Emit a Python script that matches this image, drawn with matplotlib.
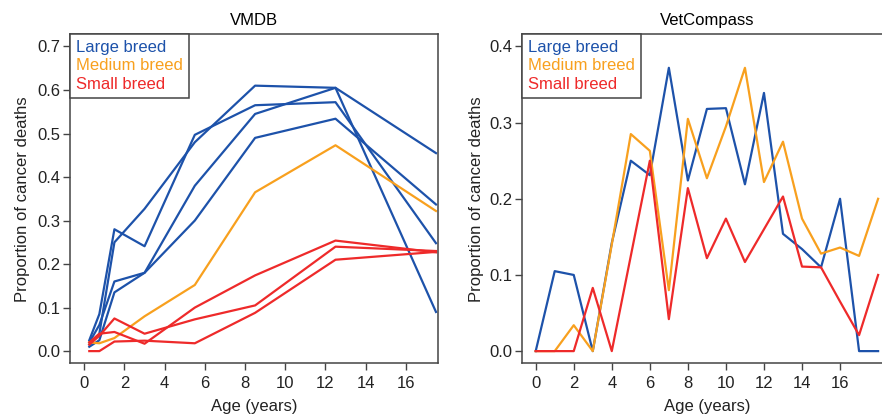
import matplotlib
matplotlib.use("Agg")
import matplotlib.pyplot as plt
from matplotlib.lines import Line2D
from matplotlib.ticker import FormatStrFormatter

plt.rcParams["font.family"] = ["Liberation Sans", "DejaVu Sans"]

BLUE = "#1d52aa"
ORANGE = "#f8a01e"
RED = "#ee2a2a"
EDGE = "#444444"

# VMDB: age-band midpoints, several lines per breed size
vmdb_age = [0.25, 0.75, 1.5, 3, 5.5, 8.5, 12.5, 17.5]
vmdb_large = [
    [0.025, 0.085, 0.28, 0.241, 0.497, 0.565, 0.572, 0.248],
    [0.015, 0.040, 0.25, 0.327, 0.480, 0.610, 0.605, 0.455],
    [0.020, 0.060, 0.16, 0.180, 0.380, 0.545, 0.605, 0.090],
    [0.010, 0.025, 0.135, 0.180, 0.300, 0.490, 0.534, 0.337],
]
vmdb_medium = [
    [0.020, 0.018, 0.030, 0.080, 0.152, 0.365, 0.473, 0.322],
]
vmdb_small = [
    [0.000, 0.000, 0.022, 0.024, 0.018, 0.088, 0.210, 0.228],
    [0.020, 0.040, 0.044, 0.017, 0.100, 0.174, 0.254, 0.227],
    [0.015, 0.035, 0.075, 0.040, 0.073, 0.105, 0.240, 0.230],
]

# VetCompass: yearly ages
vc_age = list(range(19))
vc_large = [0, 0.105, 0.100, 0, 0.142, 0.250, 0.231, 0.372, 0.224, 0.318,
            0.319, 0.219, 0.339, 0.154, 0.134, 0.110, 0.200, 0, 0]
vc_medium = [0, 0, 0.034, 0, 0.140, 0.285, 0.263, 0.080, 0.305, 0.227,
             0.295, 0.372, 0.222, 0.275, 0.174, 0.128, 0.136, 0.125, 0.200]
vc_small = [0, 0, 0, 0.083, 0, 0.125, 0.250, 0.042, 0.214, 0.122,
            0.174, 0.117, 0.160, 0.203, 0.111, 0.110, 0.065, 0.021, 0.100]

LABELS = ["Large breed", "Medium breed", "Small breed"]
COLORS = [BLUE, ORANGE, RED]


def style_axes(ax, title, xticks, yticks):
    ax.set_title(title, fontsize=12, pad=7)
    ax.set_xticks(xticks)
    ax.set_yticks(yticks)
    ax.yaxis.set_major_formatter(FormatStrFormatter("%.1f"))
    ax.tick_params(direction="out", length=5, width=1, color=EDGE,
                   labelsize=12, labelcolor="#222222")
    ax.tick_params(axis="y", pad=2)
    ax.tick_params(axis="x", pad=4)
    for sp in ax.spines.values():
        sp.set_color(EDGE)
        sp.set_linewidth(1.1)
    ax.set_xlabel("Age (years)", fontsize=12, color="#222222")
    ax.set_ylabel("Proportion of cancer deaths", fontsize=12, color="#222222")
    handles = [Line2D([], [], color=c) for c in COLORS]
    leg = ax.legend(handles, LABELS, loc="upper left", borderaxespad=0,
                    handlelength=0, handletextpad=0, fancybox=False,
                    framealpha=1, edgecolor=EDGE, fontsize=12,
                    labelspacing=0.2, borderpad=0.35)
    leg.get_frame().set_linewidth(1.1)
    for h in leg.legend_handles:
        h.set_visible(False)
    for t, c in zip(leg.get_texts(), COLORS):
        t.set_color(c)


fig = plt.figure(figsize=(8.82, 4.18), dpi=100)
H = 418
W = 882
bottom = (H - 363.3) / H
height = 329 / H

ax1 = fig.add_axes([70 / W, bottom, 368 / W, height])
for ys in vmdb_large:
    ax1.plot(vmdb_age, ys, color=BLUE, lw=1.6)
for ys in vmdb_medium:
    ax1.plot(vmdb_age, ys, color=ORANGE, lw=1.6)
for ys in vmdb_small:
    ax1.plot(vmdb_age, ys, color=RED, lw=1.6)
ax1.set_xlim(-0.71, 17.6)
ax1.set_ylim(-0.028, 0.728)
style_axes(ax1, "VMDB", range(0, 17, 2), [0, 0.1, 0.2, 0.3, 0.4, 0.5, 0.6, 0.7])
ax1.yaxis.set_label_coords(-0.108, 0.5)
ax1.xaxis.set_label_coords(0.5, -0.11)

ax2 = fig.add_axes([522 / W, bottom, 369.8 / W, height])
ax2.plot(vc_age, vc_large, color=BLUE, lw=1.6)
ax2.plot(vc_age, vc_medium, color=ORANGE, lw=1.6)
ax2.plot(vc_age, vc_small, color=RED, lw=1.6)
ax2.set_xlim(-0.72, 18.72)
ax2.set_ylim(-0.016, 0.416)
style_axes(ax2, "VetCompass", range(0, 17, 2), [0, 0.1, 0.2, 0.3, 0.4])
ax2.yaxis.set_label_coords(-0.103, 0.5)
ax2.xaxis.set_label_coords(0.5, -0.11)

fig.savefig("out.png", dpi=100)
